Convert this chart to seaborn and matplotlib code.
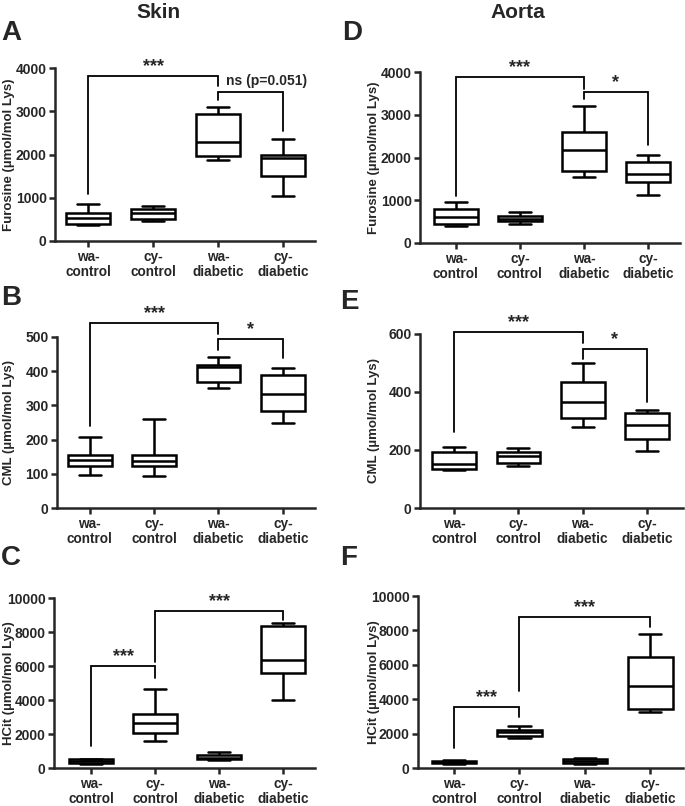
import numpy as np
import pandas as pd
import matplotlib
matplotlib.use("Agg")
import matplotlib.pyplot as plt
import seaborn as sns

GROUPS = ["wa-\ncontrol", "cy-\ncontrol", "wa-\ndiabetic", "cy-\ndiabetic"]

# five-number summaries per group: min, q1, median, q3, max
SKIN_FUROSINE = [[370, 394, 525, 656, 857],
                 [471, 510, 650, 741, 818],
                 [1869, 1954, 2286, 2934, 3089],
                 [1050, 1514, 1915, 1985, 2355]]
AORTA_FUROSINE = [[390, 445, 602, 805, 953],
                  [453, 523, 570, 625, 719],
                  [1547, 1680, 2172, 2594, 3195],
                  [1117, 1422, 1617, 1898, 2070]]
SKIN_CML = [[97, 124, 141, 155, 207],
            [95, 123, 138, 155, 259],
            [350, 367, 411, 419, 442],
            [248, 284, 332, 389, 410]]
AORTA_CML = [[130, 134, 151, 193, 211],
             [146, 155, 178, 193, 206],
             [281, 309, 366, 434, 499],
             [198, 239, 285, 329, 338]]
SKIN_HCIT = [[214, 273, 390, 526, 546],
             [1598, 2086, 2651, 3177, 4620],
             [468, 507, 604, 741, 936],
             [3996, 5595, 6355, 8343, 8538]]
AORTA_HCIT = [[229, 268, 344, 421, 440],
              [1721, 1855, 2103, 2237, 2447],
              [229, 268, 421, 516, 574],
              [3250, 3442, 4780, 6463, 7763]]

# significance brackets: (group a, group b, y at a, y top, y at b, label)
BR_SKIN_FUR = [(0, 2, 1080, 3807, 3575, "***"), (2, 3, 3266, 3444, 2548, "ns (p=0.051)")]
BR_AORTA_FUR = [(0, 2, 1094, 3883, 3594, "***"), (2, 3, 3375, 3539, 2281, "*")]
BR_SKIN_CML = [(0, 2, 241, 541, 510, "***"), (2, 3, 461, 493, 439, "*")]
BR_AORTA_CML = [(0, 2, 262, 606, 568, "***"), (2, 3, 513, 548, 365, "*")]
BR_SKIN_HCIT = [(0, 1, 1267, 6004, 5322, "***"), (1, 3, 6238, 9220, 8733, "***")]
BR_AORTA_HCIT = [(0, 1, 1185, 3537, 2964, "***"), (1, 3, 4493, 8776, 8184, "***")]

sns.set_theme(style="ticks")
plt.rcParams["font.family"] = ["Liberation Sans", "DejaVu Sans"]
plt.rcParams["font.weight"] = "bold"

W, H = 685, 806
fig = plt.figure(figsize=(W / 100, H / 100), dpi=100)


def panel(box, summary, brackets, ymax, step, ylabel, xlim, label_x):
    left, right, top, bottom = box
    ax = fig.add_axes([left / W, 1 - bottom / H, (right - left) / W, (bottom - top) / H])
    df = pd.DataFrame([(GROUPS[i], v) for i, s in enumerate(summary) for v in s],
                      columns=["group", "value"])
    sns.boxplot(data=df, x="group", y="value", order=GROUPS, ax=ax,
                color="white", linecolor="black", linewidth=1.8, width=0.68,
                whis=(0, 100), fliersize=0)
    ax.set_ylim(0, ymax)
    ax.set_xlim(*xlim)
    ax.set_yticks(np.arange(0, ymax + 1, step))
    ax.set_xlabel("")
    ax.set_ylabel(ylabel, fontsize=9.5, fontweight="bold")
    # label_x is the right edge of the rotated label, in figure pixels
    ax.yaxis.set_label_coords((label_x - left) / (right - left), 0.5)
    for side in ["top", "right"]:
        ax.spines[side].set_visible(False)
    for side in ["left", "bottom"]:
        ax.spines[side].set_linewidth(1.8)
    ax.tick_params(width=1.8, length=4, labelsize=10, pad=2)
    ax.tick_params(axis="x", labelsize=9.8, pad=2.5)
    for lab in ax.get_xticklabels():
        lab.set_fontweight("bold")
        lab.set_linespacing(1.05)
    for lab in ax.get_yticklabels():
        lab.set_fontweight("bold")
    for a, b, ya, ytop, yb, text in brackets:
        ax.plot([a, a, b, b], [ya, ytop, ytop, yb], color="black", lw=1.3,
                clip_on=False, solid_joinstyle="miter")
        if text.startswith("ns"):
            ax.text(b - 0.26, ytop + ymax * 0.025, text, ha="center", va="bottom",
                    fontsize=10, fontweight="bold", clip_on=False)
        else:
            ax.text((a + b) / 2, ytop + ymax * 0.005, text, ha="center", va="bottom",
                    fontsize=13, fontweight="bold", clip_on=False)
    return ax


panel((55, 315, 68, 241), SKIN_FUROSINE, BR_SKIN_FUR, 4000, 1000,
      "Furosine (µmol/mol Lys)", (-0.51, 3.49), 15)
panel((420, 680, 72, 243), AORTA_FUROSINE, BR_AORTA_FUR, 4000, 1000,
      "Furosine (µmol/mol Lys)", (-0.56, 3.5), 380)
panel((57, 315, 337, 508), SKIN_CML, BR_SKIN_CML, 500, 100,
      "CML (µmol/mol Lys)", (-0.51, 3.5), 15)
panel((420, 683, 334, 508), AORTA_CML, BR_AORTA_CML, 600, 200,
      "CML (µmol/mol Lys)", (-0.53, 3.56), 380)
panel((54, 315, 598, 768), SKIN_HCIT, BR_SKIN_HCIT, 10000, 2000,
      "HCit (µmol/mol Lys)", (-0.58, 3.5), 15)
panel((418, 683, 596, 768), AORTA_HCIT, BR_AORTA_HCIT, 10000, 2000,
      "HCit (µmol/mol Lys)", (-0.55, 3.5), 380)

fig.text(158 / W, 1 - 12 / H, "Skin", ha="center", va="center", fontsize=15, fontweight="bold")
fig.text(518 / W, 1 - 12 / H, "Aorta", ha="center", va="center", fontsize=15, fontweight="bold")
for letter, x, y in [("A", 1, 33), ("D", 342, 33), ("B", 1, 298), ("E", 340, 302),
                     ("C", 1, 558), ("F", 340, 558)]:
    fig.text(x / W, 1 - y / H, letter, ha="left", va="center", fontsize=20, fontweight="bold")

fig.savefig("out.png", dpi=100, facecolor="white")
